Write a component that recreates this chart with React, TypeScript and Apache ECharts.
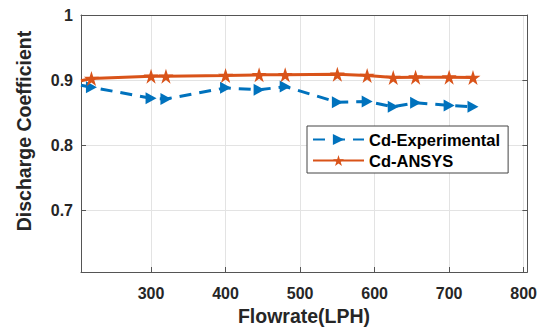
import React, { useEffect, useRef } from "react";
import * as echarts from "echarts";

const flowrate = [220, 300, 320, 400, 445, 480, 550, 590, 625, 655, 700, 732];
const cdExperimental = [0.889, 0.872, 0.871, 0.888, 0.885, 0.89, 0.866, 0.867, 0.859, 0.865, 0.861, 0.859];
const cdAnsys = [0.9025, 0.906, 0.906, 0.907, 0.908, 0.908, 0.909, 0.907, 0.904, 0.9045, 0.9045, 0.904];
// line segment entering from the left edge of the axes (no marker)
const edgeFlow = 206;
const edgeExperimental = 0.892;
const edgeAnsys = 0.899;
const xTicks = [300, 400, 500, 600, 700, 800];
const yTicks = [0.7, 0.8, 0.9, 1];
const xTitle = "Flowrate(LPH)";
const yTitle = "Discharge Coefficient";

const STAR = "path://M50 0 L61.23 34.55 L97.55 34.55 L68.16 55.9 L79.39 90.45 L50 69.1 L20.61 90.45 L31.84 55.9 L2.45 34.55 L38.77 34.55 Z";
const TRI = "path://M0 0 L100 50 L0 100 Z";
const FONT = "'Liberation Sans', Arial, sans-serif";

export default function App() {
  const ref = useRef<HTMLDivElement>(null);
  useEffect(() => {
    if (!ref.current) return;
    const chart = echarts.init(ref.current, null, { renderer: "svg" });
    const mk = (edgeY: number, ys: number[]) => [
      { value: [edgeFlow, edgeY], symbol: "none" },
      ...flowrate.map((x, i) => [x, ys[i]]),
    ];
    const axisCol = "#555";
    const labelStyle = { color: "#262626", fontWeight: "bold" as const, fontSize: 16, fontFamily: FONT };
    chart.setOption({
      animation: false,
      backgroundColor: "#fff",
      grid: { left: 81, right: 12, top: 15, bottom: 59, containLabel: false },
      graphic: [
        {
          type: "text",
          x: 24,
          y: 131,
          rotation: Math.PI / 2,
          style: { text: yTitle, align: "center", verticalAlign: "middle", fill: "#262626", font: `bold 19.5px ${FONT}` },
        },
        {
          type: "text",
          x: 304,
          y: 316,
          style: { text: xTitle, align: "center", verticalAlign: "middle", fill: "#262626", font: `bold 19.5px ${FONT}` },
        },
      ],
      legend: {
        orient: "vertical",
        left: 307,
        top: 126,
        padding: [5, 8, 4, 5],
        itemGap: 4,
        itemWidth: 51,
        itemHeight: 14,
        backgroundColor: "#fff",
        borderColor: "#444",
        borderWidth: 1,
        borderRadius: 0,
        textStyle: { color: "#000", fontWeight: "bold", fontSize: 16.5, fontFamily: FONT },
        data: ["Cd-Experimental", "Cd-ANSYS"],
      },
      xAxis: [
        {
          type: "value",
          min: 206,
          max: 805,
          axisLine: { show: true, lineStyle: { color: axisCol, width: 1 } },
          axisTick: { show: true, inside: true, length: 5, customValues: xTicks, lineStyle: { color: axisCol } },
          axisLabel: { ...labelStyle, margin: 13, customValues: xTicks },
          splitLine: { show: true, lineStyle: { color: "#e3e3e3", width: 1 } },
        },
        {
          type: "value",
          position: "top",
          min: 206,
          max: 805,
          axisLine: { show: true, lineStyle: { color: axisCol, width: 1 } },
          axisTick: { show: false },
          axisLabel: { show: false },
          splitLine: { show: false },
        },
      ],
      yAxis: [
        {
          type: "value",
          min: 0.605,
          max: 1,
          axisLine: { show: true, lineStyle: { color: axisCol, width: 1 } },
          axisTick: { show: true, inside: true, length: 5, customValues: yTicks, lineStyle: { color: axisCol } },
          axisLabel: { ...labelStyle, margin: 8, customValues: yTicks, formatter: (v: number) => String(Math.round(v * 10) / 10) },
          splitLine: { show: true, lineStyle: { color: "#e3e3e3", width: 1 } },
        },
        {
          type: "value",
          position: "right",
          min: 0.605,
          max: 1,
          axisLine: { show: true, lineStyle: { color: axisCol, width: 1 } },
          axisTick: { show: true, inside: true, length: 5, customValues: yTicks, lineStyle: { color: axisCol } },
          axisLabel: { show: false },
          splitLine: { show: false },
        },
      ],
      series: [
        {
          name: "Cd-Experimental",
          type: "line",
          data: mk(edgeExperimental, cdExperimental),
          symbol: TRI,
          symbolSize: [11, 12],
          itemStyle: { color: "#0072BD" },
          lineStyle: { color: "#0072BD", width: 3, type: [12, 8] },
          clip: true,
        },
        {
          name: "Cd-ANSYS",
          type: "line",
          data: mk(edgeAnsys, cdAnsys),
          symbol: STAR,
          symbolSize: 15,
          itemStyle: { color: "#D95319" },
          lineStyle: { color: "#D95319", width: 3 },
          clip: true,
        },
      ],
    });
    return () => chart.dispose();
  }, []);
  return <div ref={ref} style={{ width: 540, height: 331, position: "absolute", left: 0, top: 0 }} />;
}
